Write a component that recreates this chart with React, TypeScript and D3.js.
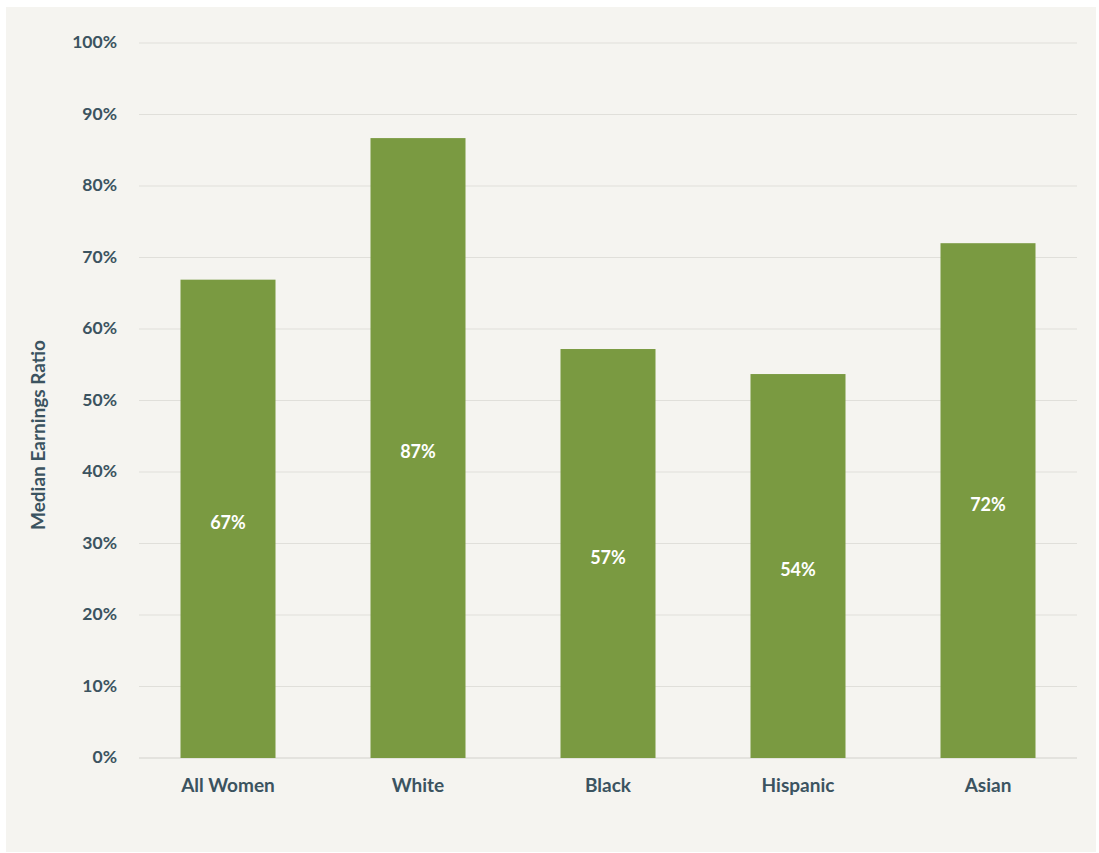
import React from "react";
import * as d3 from "d3";

const categories = ["All Women", "White", "Black", "Hispanic", "Asian"];
const ratios = [66.9, 86.7, 57.2, 53.7, 72.0];
const yTicks = [0, 10, 20, 30, 40, 50, 60, 70, 80, 90, 100];

const W = 1099;
const H = 853;
const textColor = "#3b5360";
const barColor = "#7a9a41";
const font = "Lato, 'Open Sans', sans-serif";

export default function App() {
  const x = d3.scaleBand<string>().domain(categories).range([133, 1083]).paddingInner(0.5).paddingOuter(0.25);
  const y = d3.scaleLinear().domain([0, 100]).range([758, 43]);
  const fmt = (v: number) => `${d3.format(".0f")(v)}%`;
  return (
    <svg width={W} height={H} style={{ position: "absolute", left: 0, top: 0 }}>
      <rect x={0} y={0} width={W} height={H} fill="#ffffff" />
      <rect x={6} y={7} width={1090} height={845} fill="#f5f4f0" />
      {yTicks.map((t) => (
        <g key={t}>
          <line x1={139} x2={1077} y1={y(t)} y2={y(t)} stroke={t === 0 ? "#d2d1cc" : "#e0dfda"} strokeWidth={1} />
          <text x={117} y={y(t)} dy="0.3em" textAnchor="end" fontFamily={font} fontWeight={700} fontSize={17.5} fill={textColor}>
            {`${t}%`}
          </text>
        </g>
      ))}
      {categories.map((c, i) => {
        const x0 = x(c)!;
        const top = y(ratios[i]);
        return (
          <g key={c}>
            <rect x={x0} y={top} width={x.bandwidth()} height={y(0) - top} fill={barColor} />
            <text x={x0 + x.bandwidth() / 2} y={(top + y(0)) / 2 + 4} dy="0.35em" textAnchor="middle" fontFamily={font} fontWeight={700} fontSize={18} fill="#ffffff">
              {fmt(ratios[i])}
            </text>
            <text x={x0 + x.bandwidth() / 2} y={785} dy="0.35em" textAnchor="middle" fontFamily={font} fontWeight={700} fontSize={19} fill={textColor}>
              {c}
            </text>
          </g>
        );
      })}
      <text transform={`translate(38,435) rotate(-90)`} dy="0.35em" textAnchor="middle" fontFamily={font} fontWeight={700} fontSize={19} fill={textColor}>
        Median Earnings Ratio
      </text>
    </svg>
  );
}
